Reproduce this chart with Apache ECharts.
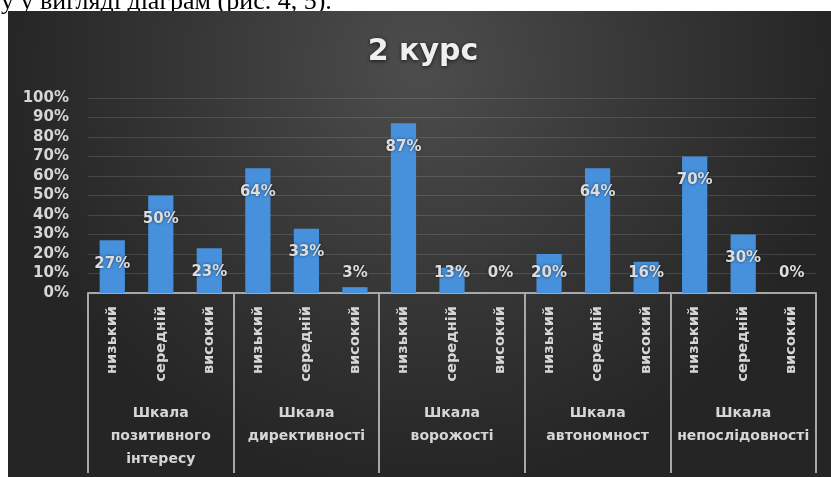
<!DOCTYPE html>
<html>
<head>
<meta charset="utf-8">
<script src="https://cdn.jsdelivr.net/npm/echarts@6/dist/echarts.min.js"></script>
<style>
html,body{margin:0;padding:0;background:#fff;}
#chart{width:831px;height:477px;}
</style>
</head>
<body>
<div id="chart"></div>
<script>
const titleText = '2 курс';
const headerText = 'у у вигляді діаграм (рис. 4, 5).';
const levels = ['низький', 'середній', 'високий'];
const groups = ['Шкала\nпозитивного\nінтересу', 'Шкала\nдирективності', 'Шкала\nворожості', 'Шкала\nавтономност', 'Шкала\nнепослідовності'];
const values = [27, 50, 23, 64, 33, 3, 87, 13, 0, 20, 64, 16, 70, 30, 0];
const yTicks = [0, 10, 20, 30, 40, 50, 60, 70, 80, 90, 100];

const categories = [];
groups.forEach(() => levels.forEach(l => categories.push(l)));

const chart = echarts.init(document.getElementById('chart'), null, {renderer: 'canvas'});
const font = 'DejaVu Sans';
const lightText = '#d6d6d6';

const option = {
  animation: false,
  backgroundColor: '#ffffff',
  graphic: [
    {
      type: 'text', z: -20, silent: true,
      style: {
        text: headerText, x: 1, y: 15,
        fill: '#000', font: '26px "Liberation Serif"',
        textVerticalAlign: 'bottom'
      }
    },
    {
      type: 'rect', z: -10, silent: true,
      shape: {x: 8, y: 11, width: 823, height: 466},
      style: {
        fill: new echarts.graphic.RadialGradient(0.5, 0.12, 0.9, [
          {offset: 0, color: '#4d4d4d'},
          {offset: 0.55, color: '#363636'},
          {offset: 1, color: '#252525'}
        ])
      }
    }
  ],
  title: {
    text: titleText,
    left: 423, top: 37, textAlign: 'center', padding: 0,
    textStyle: {
      color: '#efefef', fontFamily: font, fontWeight: 'bold', fontSize: 30,
      textShadowColor: 'rgba(0,0,0,0.7)', textShadowBlur: 4, textShadowOffsetY: 1
    }
  },
  grid: {left: 88, right: 15, top: 98, bottom: 184, containLabel: false},
  xAxis: [
    {
      type: 'category', data: categories, position: 'bottom',
      axisLine: {show: true, lineStyle: {color: '#a8a8a8', width: 2}},
      axisTick: {show: false},
      axisLabel: {
        interval: 0, rotate: 90, margin: 13,
        color: lightText, fontFamily: font, fontWeight: 'bold', fontSize: 14.5
      },
      splitLine: {show: false}
    },
    {
      type: 'category', data: groups, position: 'bottom',
      axisLine: {show: false},
      axisTick: {show: true, interval: 0, length: 180, lineStyle: {color: '#a8a8a8', width: 2}},
      axisLabel: {
        interval: 0, margin: 109, lineHeight: 23,
        color: lightText, fontFamily: font, fontWeight: 'bold', fontSize: 14
      },
      splitLine: {show: false}
    }
  ],
  yAxis: {
    type: 'value', min: 0, max: 100, interval: 10,
    axisLine: {show: false}, axisTick: {show: false},
    axisLabel: {
      margin: 19, formatter: '{value}%',
      color: lightText, fontFamily: font, fontWeight: 'bold', fontSize: 15
    },
    splitLine: {lineStyle: {color: 'rgba(255,255,255,0.13)', width: 1}}
  },
  series: [{
    type: 'bar', xAxisIndex: 0, yAxisIndex: 0,
    barWidth: '52%',
    itemStyle: {color: '#4690dc'},
    label: {
      show: true, formatter: '{c}%',
      color: '#dcdcdc', fontFamily: font, fontWeight: 'bold', fontSize: 15,
      textShadowColor: 'rgba(0,0,0,0.6)', textShadowBlur: 3
    },
    data: values.map(v => ({
      value: v,
      label: v >= 22 ? {position: 'insideTop', distance: 16} : {position: 'insideBottom', distance: 12}
    }))
  }]
};
chart.setOption(option);
</script>
</body>
</html>
